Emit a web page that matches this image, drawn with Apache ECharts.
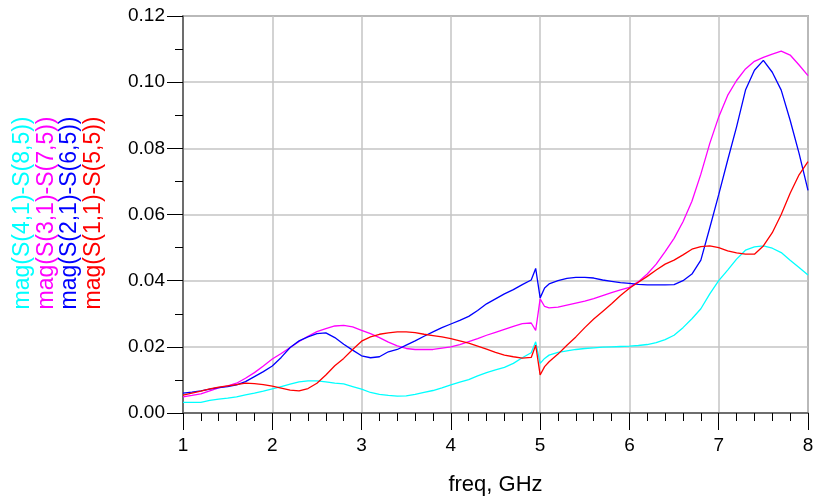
<!DOCTYPE html>
<html>
<head>
<meta charset="utf-8">
<script src="https://cdn.jsdelivr.net/npm/echarts@6/dist/echarts.min.js"></script>
<style>
  html, body { margin: 0; padding: 0; background: #fff; }
  #chart { width: 814px; height: 497px; }
</style>
</head>
<body>
<div id="chart"></div>
<script>
// frequency points (GHz)
var freq = [1.0,1.1,1.2,1.3,1.4,1.5,1.6,1.7,1.8,1.9,2.0,2.1,2.2,2.3,2.4,2.5,2.6,2.7,2.8,2.9,
  3.0,3.1,3.2,3.3,3.4,3.5,3.6,3.7,3.8,3.9,4.0,4.1,4.2,4.3,4.4,4.5,4.6,4.7,4.8,4.9,4.95,5.0,5.05,
  5.1,5.2,5.3,5.4,5.5,5.6,5.7,5.8,5.9,6.0,6.1,6.2,6.3,6.4,6.5,6.6,6.7,6.8,6.9,
  7.0,7.1,7.2,7.3,7.4,7.5,7.6,7.7,7.8,7.9,8.0]

var s41_85 = [0.0032,0.0032,0.0032,0.0038,0.0042,0.0045,0.0049,0.0055,0.0060,0.0066,0.0073,0.0080,0.0087,0.0094,0.0097,0.0097,0.0094,0.0090,0.0088,0.0080,
  0.0072,0.0062,0.0056,0.0053,0.0051,0.0052,0.0056,0.0062,0.0068,0.0076,0.0085,0.0093,0.0101,0.0112,0.0122,0.0130,0.0138,0.0150,0.0167,0.0182,0.0215,0.0150,0.0165,
  0.0175,0.0183,0.0188,0.0192,0.0195,0.0197,0.0199,0.0200,0.0201,0.0202,0.0204,0.0207,0.0213,0.0222,0.0235,0.0258,0.0285,0.0315,0.0360,
  0.0400,0.0432,0.0465,0.0492,0.0502,0.0505,0.0498,0.0485,0.0462,0.0440,0.0417]

var s31_75 = [0.0049,0.0053,0.0058,0.0067,0.0076,0.0082,0.0090,0.0105,0.0122,0.0142,0.0163,0.0180,0.0198,0.0216,0.0232,0.0246,0.0255,0.0263,0.0265,0.0260,
  0.0250,0.0240,0.0228,0.0214,0.0203,0.0195,0.0192,0.0192,0.0192,0.0196,0.0200,0.0207,0.0216,0.0225,0.0235,0.0244,0.0253,0.0262,0.0270,0.0272,0.0250,0.0345,0.0322,
  0.0318,0.0320,0.0326,0.0332,0.0338,0.0346,0.0355,0.0364,0.0372,0.0380,0.0397,0.0420,0.0450,0.0488,0.0528,0.0578,0.0640,0.0722,0.0815,
  0.0895,0.0960,0.1005,0.1040,0.1063,0.1075,0.1085,0.1094,0.1082,0.1052,0.1020]

var s21_65 = [0.0060,0.0063,0.0067,0.0072,0.0077,0.0080,0.0085,0.0095,0.0110,0.0125,0.0142,0.0168,0.0198,0.0218,0.0230,0.0240,0.0242,0.0228,0.0208,0.0190,
  0.0173,0.0167,0.0170,0.0185,0.0192,0.0205,0.0218,0.0232,0.0245,0.0258,0.0269,0.0280,0.0292,0.0310,0.0330,0.0345,0.0360,0.0373,0.0388,0.0402,0.0437,0.0348,0.0378,
  0.0390,0.0400,0.0407,0.0410,0.0410,0.0408,0.0402,0.0398,0.0394,0.0392,0.0389,0.0387,0.0387,0.0387,0.0388,0.0400,0.0420,0.0462,0.0560,
  0.0660,0.0764,0.0865,0.0976,0.1036,0.1066,0.1030,0.0976,0.0885,0.0785,0.0673]

var s11_55 = [0.0054,0.0060,0.0066,0.0073,0.0078,0.0082,0.0086,0.0090,0.0089,0.0086,0.0081,0.0075,0.0069,0.0067,0.0074,0.0090,0.0115,0.0143,0.0165,0.0192,
  0.0217,0.0230,0.0238,0.0242,0.0245,0.0245,0.0243,0.0238,0.0234,0.0230,0.0225,0.0218,0.0211,0.0202,0.0193,0.0183,0.0175,0.0170,0.0166,0.0168,0.0205,0.0115,0.0140,
  0.0155,0.0178,0.0205,0.0230,0.0258,0.0284,0.0307,0.0330,0.0355,0.0377,0.0395,0.0413,0.0432,0.0450,0.0462,0.0478,0.0495,0.0503,0.0505,
  0.0500,0.0490,0.0484,0.0480,0.0480,0.0505,0.0545,0.0600,0.0664,0.0720,0.0760]

var names = ['mag(S(4,1)-S(8,5))', 'mag(S(3,1)-S(7,5))', 'mag(S(2,1)-S(6,5))', 'mag(S(1,1)-S(5,5))']
var colors = ['#00ffff', '#ff00ff', '#0000ff', '#ff0000']
var seriesValues = [s41_85, s31_75, s21_65, s11_55]

var font = 'Liberation Sans, Arial, sans-serif'

function pairs (vals) {
  return freq.map(function (f, i) { return [f, vals[i]] })
}

var chart = echarts.init(document.getElementById('chart'))
var option = {
  animation: false,
  grid: {
    left: 183, right: 6, top: 16, bottom: 84,
    outerBoundsMode: 'none', containLabel: false,
    show: true, borderColor: '#777', borderWidth: 1.5
  },
  xAxis: {
    type: 'value', min: 1, max: 8, interval: 1,
    name: 'freq, GHz', nameLocation: 'middle', nameGap: 61, nameMoveOverlap: false,
    nameTextStyle: { fontFamily: font, fontSize: 22, color: '#000' },
    axisLine: { show: true, lineStyle: { color: '#555', width: 1.5 } },
    axisTick: { show: true, inside: false, length: 17, lineStyle: { color: '#000', width: 1 } },
    minorTick: { show: true, splitNumber: 5, length: 8, lineStyle: { color: '#000', width: 1 } },
    axisLabel: { fontFamily: font, fontSize: 19, color: '#000', margin: 23 },
    splitLine: { show: true, lineStyle: { color: '#c4c4c4', width: 1.5 } }
  },
  yAxis: {
    type: 'value', min: 0, max: 0.12, interval: 0.02,
    axisLine: { show: true, lineStyle: { color: '#555', width: 1.5 } },
    axisTick: { show: true, inside: false, length: 16, lineStyle: { color: '#000', width: 1 } },
    minorTick: { show: true, splitNumber: 2, length: 8, lineStyle: { color: '#000', width: 1 } },
    axisLabel: {
      fontFamily: font, fontSize: 19, color: '#000', margin: 18,
      formatter: function (v) { return v.toFixed(2) }
    },
    splitLine: { show: true, lineStyle: { color: '#c4c4c4', width: 1.5 } }
  },
  graphic: names.map(function (n, i) {
    return {
      type: 'text',
      x: 23 + i * 23.5,
      y: 213,
      rotation: Math.PI / 2,
      style: {
        text: n, fill: colors[i],
        font: '23px ' + font,
        align: 'center', verticalAlign: 'middle'
      }
    }
  }),
  series: seriesValues.map(function (vals, i) {
    return {
      name: names[i],
      type: 'line',
      data: pairs(vals),
      showSymbol: false,
      smooth: false,
      lineStyle: { color: colors[i], width: 1.3 },
      z: 2 + i
    }
  })
}
chart.setOption(option)
</script>
</body>
</html>
